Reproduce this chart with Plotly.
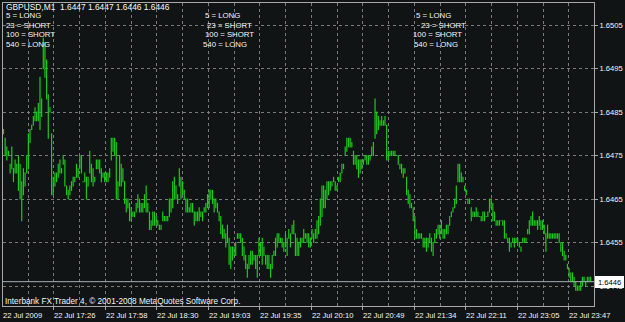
import plotly.graph_objects as go

# ---------------- data ----------------
symbol_title = "GBPUSD,M1\u00a0\u00a01.6447 1.6447 1.6446 1.6446"
comment_lines = ["5 = LONG", "23 = SHORT", "100 = SHORT", "540 = LONG"]
footer_text = "Interbank FX Trader 4, \u00a9 2001-2008 MetaQuotes Software Corp."
bid_price = 1.6446
price_ticks = [1.6505, 1.6495, 1.6485, 1.6475, 1.6465, 1.6455, 1.6445]
time_labels = ["22 Jul 2009", "22 Jul 17:26", "22 Jul 17:58", "22 Jul 18:30",
               "22 Jul 19:03", "22 Jul 19:35", "22 Jul 20:10", "22 Jul 20:49",
               "22 Jul 21:34", "22 Jul 22:11", "22 Jul 23:05", "22 Jul 23:47"]

high = [
    1.6481, 1.6479, 1.6477, 1.6476, 1.6473, 1.6477, 1.6472, 1.6474, 1.6473, 1.6475,
    1.6473, 1.6469, 1.6472, 1.6471, 1.6475, 1.6480, 1.6481, 1.6482, 1.6484, 1.6486,
    1.6485, 1.6487, 1.6493, 1.6488, 1.6502, 1.6501, 1.6497, 1.6489, 1.6486, 1.6480,
    1.6470, 1.6471, 1.6471, 1.6473, 1.6474, 1.6472, 1.6475, 1.6474, 1.6468, 1.6467,
    1.6468, 1.6469, 1.6470, 1.6470, 1.6473, 1.6472, 1.6475, 1.6475, 1.6469, 1.6471,
    1.6470, 1.6470, 1.6476, 1.6473, 1.6472, 1.6470, 1.6474, 1.6474, 1.6474, 1.6472,
    1.6471, 1.6471, 1.6471, 1.6471, 1.6472, 1.6479, 1.6479, 1.6479, 1.6478, 1.6469,
    1.6475, 1.6473, 1.6472, 1.6469, 1.6465, 1.6465, 1.6464, 1.6463, 1.6462, 1.6462,
    1.6464, 1.6466, 1.6465, 1.6464, 1.6464, 1.6466, 1.6468, 1.6464, 1.6462, 1.6460,
    # ---
    1.6462, 1.6462, 1.6461, 1.6460, 1.6459, 1.6459, 1.6462, 1.6461, 1.6461, 1.6461,
    1.6465, 1.6465, 1.6469, 1.6470, 1.6468, 1.6466, 1.6472, 1.6470, 1.6469, 1.6467,
    1.6465, 1.6465, 1.6463, 1.6464, 1.6464, 1.6462, 1.6462, 1.6462, 1.6463, 1.6462,
    1.6462, 1.6463, 1.6464, 1.6466, 1.6467, 1.6467, 1.6467, 1.6465, 1.6465, 1.6464,
    1.6462, 1.6461, 1.6459, 1.6458, 1.6457, 1.6459, 1.6456, 1.6454, 1.6454, 1.6454,
    1.6455, 1.6457, 1.6457, 1.6457, 1.6456, 1.6454, 1.6452, 1.6450, 1.6452, 1.6453,
    1.6453, 1.6452, 1.6452, 1.6452, 1.6456, 1.6455, 1.6456, 1.6454, 1.6452, 1.6452,
    1.6452, 1.6450, 1.6452, 1.6453, 1.6456, 1.6457, 1.6457, 1.6456, 1.6456, 1.6455,
    1.6457, 1.6456, 1.6458, 1.6457, 1.6459, 1.6460, 1.6457, 1.6456,
    # ---
    1.6455, 1.6456, 1.6456, 1.6458, 1.6457, 1.6457, 1.6457, 1.6456, 1.6458, 1.6457,
    1.6458, 1.6460, 1.6461, 1.6465, 1.6468, 1.6468, 1.6467, 1.6469, 1.6469, 1.6469,
    1.6469, 1.6470, 1.6469, 1.6468, 1.6470, 1.6471, 1.6473, 1.6473, 1.6477, 1.6479,
    1.6479, 1.6479, 1.6478, 1.6476, 1.6475, 1.6475, 1.6474, 1.6474, 1.6474, 1.6474,
    1.6475, 1.6475, 1.6475, 1.6475, 1.6477, 1.6478, 1.6488, 1.6485, 1.6484, 1.6483,
    1.6484, 1.6483, 1.6484, 1.6482, 1.6476, 1.6476, 1.6476, 1.6476, 1.6476, 1.6475,
    1.6475, 1.6473, 1.6473, 1.6472, 1.6472, 1.6470, 1.6467, 1.6466, 1.6464, 1.6463,
    1.6461, 1.6458, 1.6457, 1.6457, 1.6457, 1.6456, 1.6456, 1.6456, 1.6456, 1.6457,
    1.6456, 1.6455, 1.6457, 1.6458, 1.6459, 1.6459, 1.6460, 1.6458, 1.6458,
    # ---
    1.6459, 1.6459, 1.6461, 1.6462, 1.6463, 1.6465, 1.6468, 1.6473, 1.6473, 1.6471,
    1.6470, 1.6468, 1.6467, 1.6465, 1.6465, 1.6463, 1.6462, 1.6462, 1.6463, 1.6462,
    1.6461, 1.6461, 1.6462, 1.6462, 1.6461, 1.6462, 1.6465, 1.6465, 1.6464, 1.6462,
    1.6460, 1.6460, 1.6460, 1.6460, 1.6460, 1.6460, 1.6457, 1.6456, 1.6456, 1.6455,
    1.6456, 1.6456, 1.6456, 1.6456, 1.6455, 1.6454, 1.6456, 1.6456, 1.6456, 1.6458,
    1.6460, 1.6461, 1.6462, 1.6460, 1.6460, 1.6460, 1.6461, 1.6460, 1.6460, 1.6459,
    1.6457, 1.6459, 1.6457, 1.6457, 1.6457, 1.6457, 1.6457, 1.6457, 1.6457, 1.6455,
    1.6455, 1.6453, 1.6452, 1.6450, 1.6449, 1.6448, 1.6448, 1.6447, 1.6446, 1.6445,
    1.6445, 1.6446, 1.6447, 1.6447, 1.6446, 1.6447, 1.6447, 1.6447,
]

low = [
    1.6480, 1.6475, 1.6474, 1.6475, 1.6471, 1.6472, 1.6469, 1.6471, 1.6471, 1.6467,
    1.6465, 1.6460, 1.6466, 1.6468, 1.6471, 1.6472, 1.6478, 1.6481, 1.6482, 1.6483,
    1.6483, 1.6483, 1.6481, 1.6484, 1.6495, 1.6493, 1.6488, 1.6479, 1.6485, 1.6466,
    1.6466, 1.6468, 1.6469, 1.6470, 1.6471, 1.6471, 1.6473, 1.6468, 1.6466, 1.6465,
    1.6466, 1.6467, 1.6468, 1.6469, 1.6470, 1.6470, 1.6472, 1.6471, 1.6469, 1.6469,
    1.6465, 1.6468, 1.6471, 1.6469, 1.6468, 1.6469, 1.6472, 1.6472, 1.6471, 1.6469,
    1.6470, 1.6469, 1.6469, 1.6469, 1.6470, 1.6474, 1.6476, 1.6475, 1.6465, 1.6465,
    1.6468, 1.6468, 1.6469, 1.6464, 1.6462, 1.6463, 1.6460, 1.6460, 1.6461, 1.6461,
    1.6462, 1.6463, 1.6462, 1.6462, 1.6462, 1.6463, 1.6462, 1.6462, 1.6458, 1.6458,
    # ---
    1.6459, 1.6459, 1.6459, 1.6459, 1.6458, 1.6458, 1.6460, 1.6460, 1.6460, 1.6460,
    1.6461, 1.6462, 1.6463, 1.6465, 1.6465, 1.6464, 1.6468, 1.6465, 1.6466, 1.6465,
    1.6462, 1.6462, 1.6462, 1.6462, 1.6462, 1.6459, 1.6460, 1.6460, 1.6460, 1.6461,
    1.6460, 1.6462, 1.6462, 1.6463, 1.6463, 1.6465, 1.6464, 1.6462, 1.6463, 1.6462,
    1.6460, 1.6457, 1.6456, 1.6456, 1.6454, 1.6455, 1.6450, 1.6449, 1.6451, 1.6452,
    1.6452, 1.6456, 1.6456, 1.6455, 1.6452, 1.6451, 1.6449, 1.6447, 1.6449, 1.6450,
    1.6450, 1.6451, 1.6449, 1.6447, 1.6452, 1.6452, 1.6450, 1.6452, 1.6450, 1.6449,
    1.6449, 1.6447, 1.6449, 1.6452, 1.6452, 1.6454, 1.6455, 1.6455, 1.6454, 1.6453,
    1.6454, 1.6452, 1.6456, 1.6454, 1.6457, 1.6457, 1.6452, 1.6452,
    # ---
    1.6452, 1.6454, 1.6455, 1.6455, 1.6456, 1.6455, 1.6454, 1.6454, 1.6456, 1.6455,
    1.6456, 1.6456, 1.6457, 1.6459, 1.6461, 1.6463, 1.6463, 1.6465, 1.6466, 1.6467,
    1.6468, 1.6469, 1.6467, 1.6467, 1.6469, 1.6469, 1.6471, 1.6472, 1.6475, 1.6476,
    1.6477, 1.6477, 1.6477, 1.6473, 1.6473, 1.6472, 1.6470, 1.6471, 1.6472, 1.6473,
    1.6474, 1.6473, 1.6473, 1.6474, 1.6475, 1.6475, 1.6479, 1.6480, 1.6481, 1.6482,
    1.6482, 1.6482, 1.6482, 1.6474, 1.6474, 1.6475, 1.6475, 1.6475, 1.6475, 1.6475,
    1.6473, 1.6472, 1.6471, 1.6470, 1.6471, 1.6466, 1.6464, 1.6463, 1.6463, 1.6460,
    1.6456, 1.6456, 1.6456, 1.6456, 1.6456, 1.6454, 1.6454, 1.6453, 1.6454, 1.6455,
    1.6453, 1.6452, 1.6455, 1.6456, 1.6457, 1.6456, 1.6457, 1.6456, 1.6456,
    # ---
    1.6457, 1.6457, 1.6459, 1.6461, 1.6462, 1.6463, 1.6464, 1.6469, 1.6469, 1.6469,
    1.6469, 1.6467, 1.6466, 1.6464, 1.6464, 1.6460, 1.6461, 1.6461, 1.6461, 1.6461,
    1.6461, 1.6460, 1.6460, 1.6460, 1.6461, 1.6461, 1.6462, 1.6463, 1.6460, 1.6460,
    1.6459, 1.6459, 1.6459, 1.6460, 1.6459, 1.6456, 1.6456, 1.6455, 1.6453, 1.6454,
    1.6455, 1.6454, 1.6455, 1.6455, 1.6454, 1.6453, 1.6455, 1.6455, 1.6455, 1.6457,
    1.6457, 1.6459, 1.6459, 1.6459, 1.6459, 1.6458, 1.6459, 1.6458, 1.6458, 1.6457,
    1.6453, 1.6456, 1.6456, 1.6456, 1.6456, 1.6456, 1.6456, 1.6456, 1.6455, 1.6453,
    1.6452, 1.6451, 1.6451, 1.6449, 1.6447, 1.6446, 1.6446, 1.6445, 1.6444, 1.6444,
    1.6444, 1.6444, 1.6445, 1.6446, 1.6445, 1.6446, 1.6446, 1.6446,
]

# ---------------- geometry / style ----------------
W, H = 625, 322
ML, MR, MT, MB = 3, 31, 3, 16
PW, PH = W - ML - MR, H - MT - MB          # plot area 591 x 303
n = len(high)
XR = [-0.3, 356.0]
YR = [1.64404, 1.65101]

BG = "#111414"
GRID = "#7a7a7a"
FRAME = "#a8a8a8"
BARC = "#1ec81e"
TXT = "#f4f4f4"
FONT = "Liberation Sans, Arial, sans-serif"
FS = 7.6


def px_to_x(px):
    return XR[0] + (px - ML) * (XR[1] - XR[0]) / PW


def px_paper_x(px):
    return (px - ML) / PW


def py_paper_y(py):
    return (MT + PH - py) / PH


def label(text, px, py, size=FS, color=TXT, **kw):
    d = dict(text=text, x=px_paper_x(px), y=py_paper_y(py),
             xref="paper", yref="paper", xanchor="left", yanchor="middle",
             showarrow=False, font=dict(family=FONT, size=size, color=color),
             borderpad=0, borderwidth=0)
    d.update(kw)
    return d


pad = 0.0000115
idx = list(range(n))
fig = go.Figure()
fig.add_trace(go.Bar(
    x=idx,
    base=[l - pad for l in low],
    y=[h - l + 2 * pad for h, l in zip(high, low)],
    width=0.72,
    marker=dict(color=BARC, line=dict(width=0)),
    hoverinfo="skip",
    showlegend=False,
))

# grid positions (every 25.75 px, labels on every other line)
grid_px = [28 + 25.75 * j for j in range(22)]
major_px = grid_px[1::2]
minor_px = grid_px[0::2]

annotations = [label(symbol_title, 5.5, 7, size=8.4)]
row_y = [16, 25.5, 35, 44.8]
col_x = [[5.5, 5.5, 5.5, 5.5], [205, 206.7, 205, 203.3], [415.5, 420.5, 412.5, 413.5]]
for cx in col_x:
    for t, yy, xx in zip(comment_lines, row_y, cx):
        annotations.append(label(t, xx, yy, size=7.8))
annotations.append(label(footer_text, 5, 301.5, size=8.2))
for k, t in enumerate(time_labels):
    annotations.append(label(t, 2.6 + 51.5 * k, 315, size=7.6))
# bid label box
annotations.append(dict(text="%.4f" % bid_price, x=px_paper_x(595), y=bid_price,
                        xref="paper", yref="y", xanchor="left", yanchor="middle",
                        showarrow=False, font=dict(family=FONT, size=7.6, color="#000000"),
                        bgcolor="#ffffff", borderpad=1, borderwidth=0, width=27, height=10))

fig.update_layout(
    width=W, height=H,
    margin=dict(l=ML, r=MR, t=MT, b=MB, pad=0),
    paper_bgcolor=BG, plot_bgcolor=BG,
    showlegend=False,
    hovermode=False,
    annotations=annotations,
    shapes=[dict(type="line", xref="paper", x0=0, x1=1, yref="y",
                 y0=bid_price, y1=bid_price, line=dict(color="#a3aebb", width=1))],
    xaxis=dict(
        range=XR, autorange=False, fixedrange=True,
        tickmode="array", tickvals=[px_to_x(p) for p in major_px],
        showticklabels=False, ticks="outside", ticklen=3, tickcolor=FRAME, tickwidth=1,
        showgrid=True, gridcolor=GRID, griddash="3px,3px", gridwidth=1,
        minor=dict(tickmode="array", tickvals=[px_to_x(p) for p in minor_px],
                   showgrid=True, gridcolor=GRID, griddash="3px,3px", gridwidth=1, ticks=""),
        zeroline=False, showline=True, mirror=True, linecolor=FRAME, linewidth=1,
        automargin=False,
    ),
    yaxis=dict(
        range=YR, autorange=False, fixedrange=True, side="right",
        tickmode="array", tickvals=price_ticks, ticktext=["%.4f" % v for v in price_ticks],
        ticks="outside", ticklen=3, tickcolor=FRAME, tickwidth=1,
        tickfont=dict(family=FONT, size=7.6, color=TXT),
        showgrid=True, gridcolor=GRID, griddash="3px,3px", gridwidth=1,
        zeroline=False, showline=True, mirror=True, linecolor=FRAME, linewidth=1,
        automargin=False,
    ),
)

fig.write_html("out.html", config={"displayModeBar": False, "staticPlot": True})
